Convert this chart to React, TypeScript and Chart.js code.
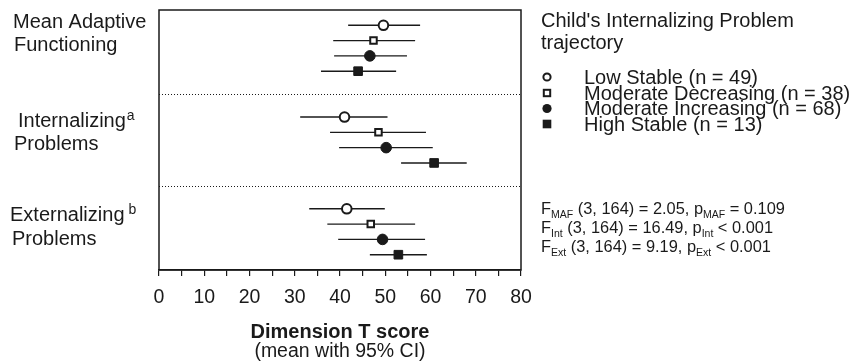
import React, { useEffect, useRef } from 'react';
import { Chart, registerables } from 'chart.js';

Chart.register(...registerables);

// ---------- data ----------
const groupLabels: string[][] = [
  ['Mean Adaptive', 'Functioning'],
  ['Internalizing', 'Problems'],
  ['Externalizing', 'Problems'],
];
const groupSup: string[] = ['', 'a', 'b'];

const seriesNames: string[] = [
  'Low Stable (n = 49)',
  'Moderate Decreasing (n = 38)',
  'Moderate Increasing (n = 68)',
  'High Stable (n = 13)',
];

// order of values in each array: MAF, Internalizing, Externalizing
const lowStableMean = [49.6, 41.0, 41.5];
const lowStableLo = [41.8, 31.2, 33.2];
const lowStableHi = [57.7, 50.5, 49.9];

const modDecMean = [47.4, 48.5, 46.8];
const modDecLo = [38.5, 37.8, 37.2];
const modDecHi = [56.6, 59.0, 56.6];

const modIncMean = [46.6, 50.2, 49.4];
const modIncLo = [38.7, 39.8, 39.6];
const modIncHi = [54.8, 60.5, 58.8];

const highStableMean = [44.0, 60.8, 52.9];
const highStableLo = [35.8, 53.5, 46.6];
const highStableHi = [52.4, 68.0, 59.2];

const xTicks = [0, 10, 20, 30, 40, 50, 60, 70, 80];

const legendTitle = ["Child's Internalizing Problem", 'trajectory'];
const axisTitle = 'Dimension T score';
const axisSubtitle = '(mean with 95% CI)';

// stats lines: [F subscript, rest after F, p subscript, rest after p]
const statsLines: string[][] = [
  ['MAF', ' (3, 164) = 2.05, p', 'MAF', ' = 0.109'],
  ['Int', ' (3, 164) = 16.49, p', 'Int', ' < 0.001'],
  ['Ext', ' (3, 164) = 9.19, p', 'Ext', ' < 0.001'],
];

// ---------- styles ----------
const INK = '#1a1a1a';
const FONT = '"Liberation Sans", Arial, Helvetica, sans-serif';
const means = [lowStableMean, modDecMean, modIncMean, highStableMean];
const los = [lowStableLo, modDecLo, modIncLo, highStableLo];
const his = [lowStableHi, modDecHi, modIncHi, highStableHi];
const styles = [
  { pointStyle: 'circle', radius: 4.8, fill: '#ffffff', bw: 2 },
  { pointStyle: 'rect', radius: 4.6, fill: '#ffffff', bw: 2 },
  { pointStyle: 'circle', radius: 5.3, fill: INK, bw: 1 },
  { pointStyle: 'rect', radius: 6.1, fill: INK, bw: 1 },
];
const ROWS_PER_GROUP = 6;
const rowValue = (g: number, s: number) => g * ROWS_PER_GROUP + s + 1;

function drawLegendMarker(ctx: CanvasRenderingContext2D, s: number, x: number, y: number) {
  ctx.save();
  ctx.strokeStyle = INK;
  ctx.fillStyle = INK;
  ctx.lineWidth = 2;
  if (s === 0) {
    ctx.beginPath();
    ctx.arc(x, y, 3.6, 0, Math.PI * 2);
    ctx.stroke();
  } else if (s === 1) {
    ctx.strokeRect(x - 3.2, y - 3.2, 6.4, 6.4);
  } else if (s === 2) {
    ctx.beginPath();
    ctx.arc(x, y, 4.6, 0, Math.PI * 2);
    ctx.fill();
  } else {
    ctx.fillRect(x - 4.3, y - 4.3, 8.6, 8.6);
  }
  ctx.restore();
}

const overlayPlugin = {
  id: 'overlay',
  beforeDatasetsDraw(chart: any) {
    const { ctx, chartArea, scales } = chart;
    const xs = scales.x;
    const ys = scales.y;
    ctx.save();
    // dotted separators
    ctx.strokeStyle = INK;
    ctx.lineWidth = 1;
    ctx.setLineDash([1, 2]);
    [5.5, 11.5].forEach((v) => {
      const y = Math.round(ys.getPixelForValue(v)) + 0.5;
      ctx.beginPath();
      ctx.moveTo(chartArea.left, y);
      ctx.lineTo(chartArea.right, y);
      ctx.stroke();
    });
    ctx.setLineDash([]);
    // error bars
    ctx.lineWidth = 1.4;
    for (let s = 0; s < means.length; s++) {
      for (let g = 0; g < groupLabels.length; g++) {
        const y = ys.getPixelForValue(rowValue(g, s));
        ctx.beginPath();
        ctx.moveTo(xs.getPixelForValue(los[s][g]), y);
        ctx.lineTo(xs.getPixelForValue(his[s][g]), y);
        ctx.stroke();
      }
    }
    ctx.restore();
  },
  afterDraw(chart: any) {
    const { ctx, chartArea } = chart;
    ctx.save();
    // frame
    ctx.strokeStyle = INK;
    ctx.lineWidth = 1.5;
    ctx.strokeRect(chartArea.left, chartArea.top, chartArea.right - chartArea.left, chartArea.bottom - chartArea.top);

    ctx.fillStyle = INK;
    ctx.textBaseline = 'alphabetic';
    ctx.textAlign = 'left';

    // group labels
    const labelPos = [
      { x: [13, 14], y: [28, 51] },
      { x: [18, 14], y: [127, 150] },
      { x: [10, 12], y: [221, 245] },
    ];
    groupLabels.forEach((lines, g) => {
      lines.forEach((t, i) => {
        ctx.font = `20px ${FONT}`;
        const x = labelPos[g].x[i];
        const y = labelPos[g].y[i];
        ctx.fillText(t, x, y);
        if (i === 0 && groupSup[g]) {
          const w = ctx.measureText(t).width;
          ctx.font = `14px ${FONT}`;
          ctx.fillText(groupSup[g], x + w + (g === 2 ? 4 : 1), y - 7);
        }
      });
    });

    // legend title
    ctx.font = `20px ${FONT}`;
    ctx.fillText(legendTitle[0], 541, 27);
    ctx.fillText(legendTitle[1], 541, 49);
    // legend rows
    const rowY = [77, 93, 108.5, 124];
    seriesNames.forEach((n, s) => {
      drawLegendMarker(ctx, s, 547, rowY[s]);
      ctx.font = `20px ${FONT}`;
      ctx.textBaseline = 'middle';
      ctx.fillText(n, 584, rowY[s] + 1);
      ctx.textBaseline = 'alphabetic';
    });

    // stats
    const statY = [214, 233, 252];
    statsLines.forEach((parts, i) => {
      let x = 541;
      const y = statY[i];
      const seq: [string, boolean][] = [
        ['F', false],
        [parts[0], true],
        [parts[1], false],
        [parts[2], true],
        [parts[3], false],
      ];
      seq.forEach(([t, sub]) => {
        ctx.font = sub ? `10.5px ${FONT}` : `16.4px ${FONT}`;
        ctx.fillText(t, x, sub ? y + 3.5 : y);
        x += ctx.measureText(t).width;
      });
    });

    // axis title
    const cx = (chartArea.left + chartArea.right) / 2;
    ctx.textAlign = 'center';
    ctx.textBaseline = 'middle';
    ctx.font = `bold 20px ${FONT}`;
    ctx.fillText(axisTitle, cx, 332);
    ctx.font = `19.5px ${FONT}`;
    ctx.fillText(axisSubtitle, cx, 352);
    ctx.restore();
  },
};

export default function App() {
  const ref = useRef<HTMLCanvasElement | null>(null);

  useEffect(() => {
    if (!ref.current) return;
    const datasets = means.map((m, s) => ({
      label: seriesNames[s],
      data: m.map((v, g) => ({ x: v, y: rowValue(g, s) })),
      pointStyle: styles[s].pointStyle as any,
      pointRadius: styles[s].radius,
      pointHoverRadius: styles[s].radius,
      pointBackgroundColor: styles[s].fill,
      pointBorderColor: INK,
      pointBorderWidth: styles[s].bw,
      showLine: false,
    }));
    const chart = new Chart(ref.current, {
      type: 'scatter',
      data: { datasets },
      options: {
        animation: false,
        responsive: false,
        maintainAspectRatio: false,
        layout: { padding: { left: 159, right: 336, top: 10, bottom: 0 } },
        plugins: { legend: { display: false }, tooltip: { enabled: false } },
        scales: {
          x: {
            type: 'linear',
            min: 0,
            max: 80,
            afterFit: (scale: any) => {
              scale.height = 93;
            },
            afterBuildTicks: (scale: any) => {
              const all: { value: number }[] = [];
              for (let i = 0; i < xTicks.length; i++) {
                all.push({ value: xTicks[i] });
                if (i < xTicks.length - 1) all.push({ value: (xTicks[i] + xTicks[i + 1]) / 2 });
              }
              scale.ticks = all;
            },
            ticks: {
              autoSkip: false,
              maxRotation: 0,
              color: INK,
              padding: 10,
              font: { size: 19.5, family: FONT },
              callback: (v: any) => (xTicks.includes(Number(v)) ? String(v) : ''),
            },
            grid: {
              display: true,
              drawOnChartArea: false,
              drawTicks: true,
              tickLength: 6,
              color: INK,
              lineWidth: 1.2,
            },
            border: { display: true, color: INK, width: 1.5 },
          },
          y: {
            type: 'linear',
            min: 0,
            max: 17,
            reverse: true,
            display: false,
          },
        },
      },
      plugins: [overlayPlugin],
    });
    return () => chart.destroy();
  }, []);

  return (
    <div style={{ position: 'absolute', left: 0, top: 0, width: 857, height: 363, background: '#fff' }}>
      <canvas ref={ref} width={857} height={363} style={{ display: 'block' }} />
    </div>
  );
}
